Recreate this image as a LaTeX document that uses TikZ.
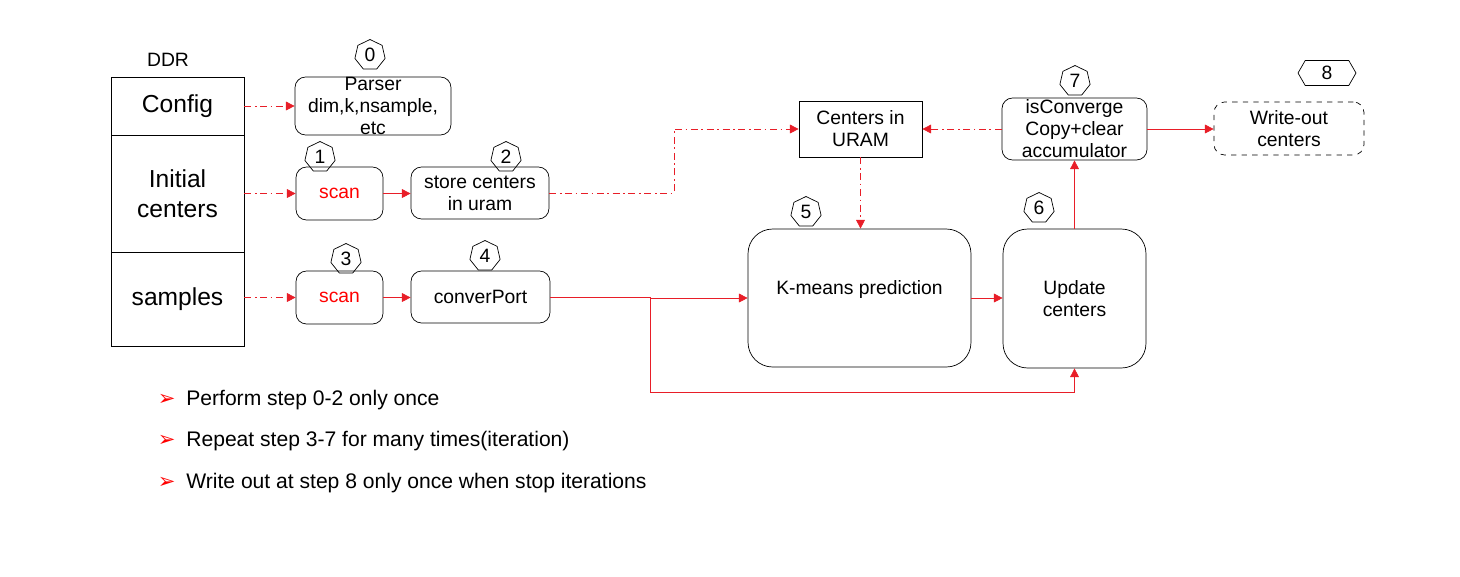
\documentclass[tikz,border=0pt]{standalone}
\usepackage{fontspec}
\setmainfont{Liberation Sans}
\newfontfamily\dingfont{DejaVu Sans}
\usetikzlibrary{arrows.meta,calc,positioning,shapes.geometric,shapes.symbols}
\definecolor{arw}{RGB}{232,30,40}

\begin{document}
\begin{tikzpicture}[x=0.02cm,y=-0.02cm,
every node/.style={font=\fontsize{11}{12.5}\selectfont},
box/.style={draw,rounded corners=6pt,align=center,inner sep=0pt},
bigbox/.style={draw,rounded corners=14pt,align=center,inner sep=0pt,minimum width=2.86cm,minimum height=2.78cm},
ddr/.style={draw,minimum width=2.66cm,inner sep=0pt,align=center,font=\fontsize{14}{17}\selectfont},
tag/.style={draw,regular polygon,regular polygon sides=7,minimum size=0.62cm,inner sep=0pt},
dd/.style={arw,dash pattern=on 4pt off 2pt on 1pt off 2pt,-{Triangle[length=5pt,width=5pt]}},
sl/.style={arw,-{Triangle[length=5pt,width=5pt]}},
item/.style={anchor=west,inner sep=0pt,font=\fontsize{12}{14}\selectfont}]
\useasboundingbox (0,0) rectangle (1460,576);

% DDR
\node (ddrlbl) at (168,60) {DDR};
\node[ddr,minimum height=1.16cm] (cfg) at (177.5,106) {Config};
\node[ddr,minimum height=2.34cm] (init) at (177.5,193.5) {Initial\\centers};
\node[ddr,minimum height=1.88cm] (smp) at (177.5,299) {samples};

% steps
\node[box,minimum width=3.12cm,minimum height=1.16cm] (parser) at (373,106) {Parser\\dim,k,nsample,\\etc};
\node[box,minimum width=1.74cm,minimum height=1.06cm,text=red] (scana) at (339.5,193.5) {scan};
\node[box,minimum width=2.76cm,minimum height=1.04cm] (store) at (480,193) {store centers\\in uram};
\node[box,minimum width=1.74cm,minimum height=1.06cm,text=red] (scanb) at (339.5,297.5) {scan};
\node[box,minimum width=2.78cm,minimum height=1.04cm] (conv) at (480.5,297) {converPort};
\node[draw,align=center,minimum width=2.46cm,minimum height=1.12cm,inner sep=0pt] (uram) at (860.5,129) {Centers in\\URAM};
\node[bigbox,minimum width=4.46cm,minimum height=2.76cm] (kmeans) at (859.5,298) {K-means prediction\\[0pt]\mbox{}};
\node[bigbox] (update) at (1074.5,298.5) {Update\\centers};
\node[box,minimum width=2.9cm,minimum height=1.24cm] (isconv) at (1074.5,129) {isConverge\\Copy+clear\\accumulator};
\node[box,dashed,minimum width=3cm,minimum height=1.06cm] (wout) at (1289,128.5) {Write-out\\centers};

% step numbers
\node[tag] (t0) at (370,55) {0};
\node[tag] (t1) at (320,157) {1};
\node[tag] (t2) at (506,157) {2};
\node[tag] (t3) at (346,259) {3};
\node[tag] (t4) at (485,256) {4};
\node[tag] (t5) at (806,212) {5};
\node[tag] (t6) at (1039,208) {6};
\node[tag] (t7) at (1075,81) {7};
\node[draw,signal,signal to=west and east,signal pointer angle=120,minimum width=1.16cm,minimum height=0.5cm,inner sep=0pt] (t8) at (1327,73) {8};

% connectors
\coordinate (j1) at (674,193);
\coordinate (j2) at (650,297);
\draw[dd] (cfg.east) -- (cfg.east -| parser.west);
\draw[dd] (init.east) -- (init.east -| scana.west);
\draw[dd] (smp.east |- scanb) -- (scanb.west);
\draw[sl] (scana.east) -- (scana.east -| store.west);
\draw[sl] (scanb.east) -- (scanb.east -| conv.west);
\draw[dd] (store.east) -- (j1) |- (uram.west);
\draw[dd] (isconv.west) -- (uram.east);
\draw[dd] (uram.south) -- (uram.south |- kmeans.north);
\draw[sl] (conv.east) -- (j2) -- (j2 |- kmeans.west) -- (kmeans.west);
\draw[sl] (j2) -- ++(0,95) -| (update.south);
\draw[sl] (kmeans.east) -- (kmeans.east -| update.west);
\draw[sl] (update.north) -- (update.north |- isconv.south);
\draw[sl] (isconv.east) -- (isconv.east -| wout.west);

% notes
\node[item] (n1) at (186,400) {Perform step 0-2 only once};
\node[item] (n2) at (186,441) {Repeat step 3-7 for many times(iteration)};
\node[item] (n3) at (186,483) {Write out at step 8 only once when stop iterations};
\foreach \n in {n1,n2,n3}
  \node[text=red,font=\dingfont\fontsize{12}{12}\selectfont,anchor=east,inner sep=0pt] at ($(\n.west)+(-10,0)$) {➢};
\end{tikzpicture}
\end{document}
